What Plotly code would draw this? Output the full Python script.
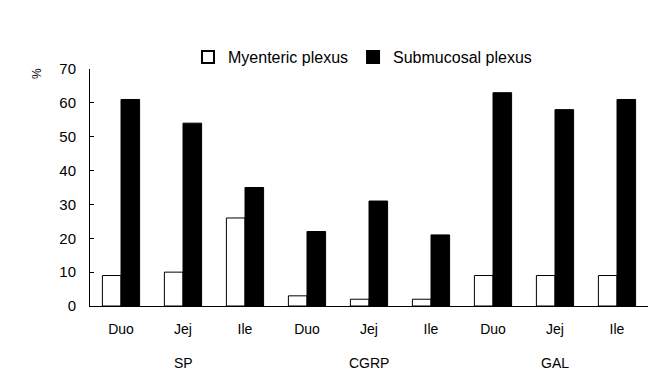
import plotly.graph_objects as go

groups = ["SP", "CGRP", "GAL"]
regions = ["Duo", "Jej", "Ile"]
myenteric = [9, 10, 26, 3, 2, 2, 9, 9, 9]
submucosal = [61, 54, 35, 22, 31, 21, 63, 58, 61]
y_ticks = [0, 10, 20, 30, 40, 50, 60, 70]

cats = [f"{g} {r}" for g in groups for r in regions]
tick_text = [r for g in groups for r in regions]

FONT = "Liberation Sans, Arial, sans-serif"

fig = go.Figure()
fig.add_trace(go.Bar(x=cats, y=myenteric, name="Myenteric plexus",
                     marker=dict(color="white", line=dict(color="black", width=1))))
fig.add_trace(go.Bar(x=cats, y=submucosal, name="Submucosal plexus",
                     marker=dict(color="black", line=dict(color="black", width=1))))

for i, g in enumerate(groups):
    fig.add_annotation(x=cats[i * 3 + 1], xref="x", y=-(363 - 306) / 237, yref="paper",
                       text=g, showarrow=False, yanchor="middle",
                       font=dict(size=14, color="black", family=FONT))

fig.add_annotation(x=-(90 - 37) / 558, xref="paper", y=(306 - 74) / 237, yref="paper",
                   xanchor="center", yanchor="middle",
                   text="%", showarrow=False, textangle=-90,
                   font=dict(size=12, color="black", family=FONT))

fig.update_layout(
    width=653, height=378,
    margin=dict(l=90, r=5, t=69, b=72),
    paper_bgcolor="white", plot_bgcolor="white",
    barmode="group", bargap=0.4, bargroupgap=0,
    font=dict(family=FONT, size=14, color="black"),
    showlegend=True,
    legend=dict(orientation="h", x=(188 - 90) / 558, y=1.05, xanchor="left", yanchor="middle",
                font=dict(size=16), itemsizing="constant", itemwidth=30,
                bgcolor="rgba(0,0,0,0)"),
    xaxis=dict(categoryorder="array", categoryarray=cats,
               tickmode="array", tickvals=cats, ticktext=tick_text,
               showline=True, linecolor="black", linewidth=1,
               ticks="", showgrid=False, ticklabelstandoff=10,
               tickfont=dict(size=14)),
    yaxis=dict(range=[0, 70], tickvals=y_ticks, showline=True, linecolor="black",
               linewidth=1, ticks="inside", ticklen=4, tickcolor="black",
               showgrid=False, zeroline=False, ticklabelstandoff=10,
               tickfont=dict(size=15)),
)

fig.write_html("out.html", config={"displayModeBar": False},
               post_script="document.body.style.margin='0';")
